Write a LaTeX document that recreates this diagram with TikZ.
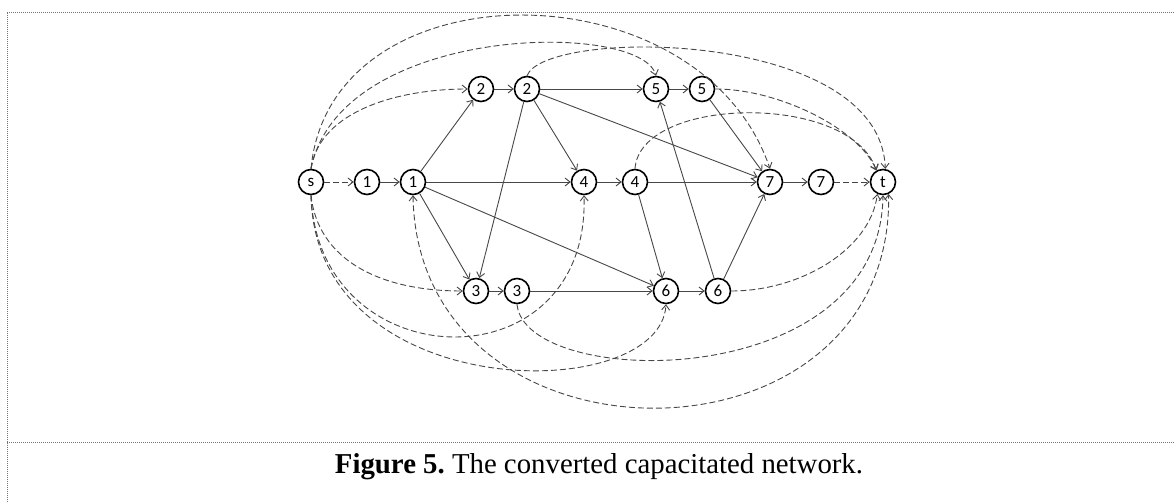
\documentclass[tikz,border=0pt]{standalone}
\usepackage{fontspec}
\setmainfont{Liberation Serif}
\newfontfamily\carlito{Carlito}
\usetikzlibrary{arrows.meta}

\begin{document}
\begin{tikzpicture}[x=1pt,y=-1pt,
  vtx/.style={circle,draw,line width=1.6pt,minimum size=25pt,inner sep=0pt,
    font=\carlito\fontsize{17}{17}\selectfont},
  conn/.style={draw=black!72,line width=0.9pt,-{Straight Barb[length=5pt,width=8pt]}},
  dconn/.style={conn,dash pattern=on 6pt off 3pt},
  boxline/.style={draw=black!55,line width=1pt,dash pattern=on 1pt off 1pt}]
\useasboundingbox (0,0) rectangle (1175,502);
% frame
\coordinate (tl) at (7,13);
\coordinate (tr) at (1175,13);
\coordinate (ml) at (7,442);
\coordinate (mr) at (1175,442);
\coordinate (bl) at (7,502);
\draw[boxline] (tl) -- (tr);
\draw[boxline] (tl) -- (bl);
\draw[boxline] (ml) -- (mr);
%
\node[vtx] (s) at (311,182) {s};
\node[vtx] (a1) at (367,182) {1};
\node[vtx] (b1) at (413,182) {1};
\node[vtx] (a4) at (584,182) {4};
\node[vtx] (b4) at (635,182) {4};
\node[vtx] (a7) at (770,182) {7};
\node[vtx] (b7) at (821,182) {7};
\node[vtx] (t) at (883,182) {t};
\node[vtx] (a2) at (481,89) {2};
\node[vtx] (b2) at (527,89) {2};
\node[vtx] (a5) at (656,89) {5};
\node[vtx] (b5) at (702,89) {5};
\node[vtx] (a3) at (476,291) {3};
\node[vtx] (b3) at (517,291) {3};
\node[vtx] (a6) at (666,291) {6};
\node[vtx] (b6) at (718,291) {6};
% solid arcs
\draw[conn] (a1) -- (b1);
\draw[conn] (b1) -- (a2);
\draw[conn] (b1) -- (a4);
\draw[conn] (b1) -- (a3);
\draw[conn] (b1) -- (a6);
\draw[conn] (a2) -- (b2);
\draw[conn] (b2) -- (a5);
\draw[conn] (b2) -- (a4);
\draw[conn] (b2) -- (a7);
\draw[conn] (b2) -- (a3);
\draw[conn] (a4) -- (b4);
\draw[conn] (b4) -- (a7);
\draw[conn] (b4) -- (a6);
\draw[conn] (a3) -- (b3);
\draw[conn] (b3) -- (a6);
\draw[conn] (a6) -- (b6);
\draw[conn] (b6) -- (a5);
\draw[conn] (b6) -- (a7);
\draw[conn] (a5) -- (b5);
\draw[conn] (b5) -- (a7);
\draw[conn] (a7) -- (b7);
% dashed arcs, top
\draw[dconn] (s) -- (a1);
\draw[dconn] (b7) -- (t);
\draw[dconn] (s.north) .. controls (330,-36) and (700,-36) .. (a7.north);
\draw[dconn] (s.north) .. controls (340,24) and (640,20) .. (a5.north);
\draw[dconn] (s.north) .. controls (320,110) and (400,89) .. (a2.west);
\draw[dconn] (b2.north) .. controls (545,28) and (880,28) .. (t.80);
\draw[dconn] (b5.east) .. controls (780,89) and (860,130) .. (t.120);
\draw[dconn] (b4.north) .. controls (640,96) and (850,92) .. (t.120);
% dashed arcs, bottom
\draw[dconn] (s.south) .. controls (318,260) and (380,291) .. (a3.west);
\draw[dconn] (s.south) .. controls (318,380) and (590,388) .. (a4.south);
\draw[dconn] (s.south) .. controls (315,406) and (660,406) .. (a6.south);
\draw[dconn,{Straight Barb[length=5pt,width=8pt]}-{Straight Barb[length=5pt,width=8pt]}] (b1.south) .. controls (418,479) and (893,479) .. (t.-65);
\draw[dconn] (b3.south) .. controls (525,390) and (880,395) .. (t.south);
\draw[dconn] (b6.east) .. controls (800,291) and (870,250) .. (t.-115);
% caption
\node[font=\fontsize{28.8}{29}\selectfont,anchor=base] (cap) at (599,473)
  {\frenchspacing\textbf{Figure 5.} The converted capacitated network.};
\end{tikzpicture}
\end{document}
